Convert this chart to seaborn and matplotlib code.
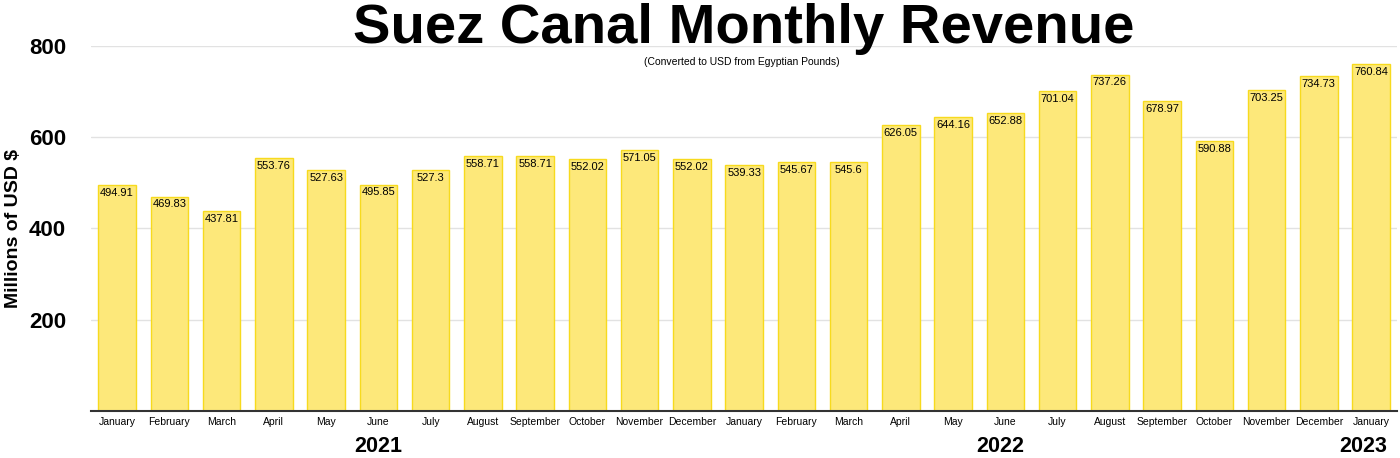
import pandas as pd
import matplotlib.pyplot as plt
import seaborn as sns

sns.set_theme(style="white")
plt.rcParams["font.family"] = ["Liberation Sans", "DejaVu Sans"]
plt.rcParams["text.color"] = "black"
plt.rcParams["axes.labelcolor"] = "black"
plt.rcParams["xtick.color"] = "black"
plt.rcParams["ytick.color"] = "black"

# Monthly revenue, Jan 2021 - Jan 2023 (millions USD)
months = [
    "January", "February", "March", "April", "May", "June", "July",
    "August", "September", "October", "November", "December",
    "January", "February", "March", "April", "May", "June", "July",
    "August", "September", "October", "November", "December",
    "January",
]
periods = [
    "2021-01", "2021-02", "2021-03", "2021-04", "2021-05", "2021-06",
    "2021-07", "2021-08", "2021-09", "2021-10", "2021-11", "2021-12",
    "2022-01", "2022-02", "2022-03", "2022-04", "2022-05", "2022-06",
    "2022-07", "2022-08", "2022-09", "2022-10", "2022-11", "2022-12",
    "2023-01",
]
revenue = [
    494.91, 469.83, 437.81, 553.76, 527.63, 495.85, 527.3,
    558.71, 558.71, 552.02, 571.05, 552.02,
    539.33, 545.67, 545.6, 626.05, 644.16, 652.88, 701.04,
    737.26, 678.97, 590.88, 703.25, 734.73,
    760.84,
]
labels = ["494.91", "469.83", "437.81", "553.76", "527.63", "495.85", "527.3",
          "558.71", "558.71", "552.02", "571.05", "552.02",
          "539.33", "545.67", "545.6", "626.05", "644.16", "652.88", "701.04",
          "737.26", "678.97", "590.88", "703.25", "734.73",
          "760.84"]
years = ["2021", "2022", "2023"]
year_pos = [5.0, 16.9, 23.85]

df = pd.DataFrame({"period": periods, "revenue": revenue})

fig = plt.figure(figsize=(14, 4.58), dpi=100)
ax = fig.add_axes([0.065, 0.1026, 0.933, 0.797])

sns.barplot(data=df, x="period", y="revenue", order=periods, ax=ax,
            color="#FDE87A", edgecolor="#F7DA1E", linewidth=1.0,
            width=0.72, saturation=1)

ax.set_ylim(0, 800)
ax.set_yticks([200, 400, 600, 800])
ax.yaxis.grid(True, color="#e2e2e2", linewidth=1)
ax.set_axisbelow(True)
for s in ["left", "right", "top"]:
    ax.spines[s].set_visible(False)
ax.spines["bottom"].set_color("#333333")
ax.spines["bottom"].set_linewidth(1.5)

ax.set_xticks(range(len(months)))
ax.set_xticklabels(months, fontsize=7.5)
ax.tick_params(axis="x", length=0, pad=4)
ax.tick_params(axis="y", length=0, pad=18, labelsize=16)
for t in ax.get_yticklabels():
    t.set_fontweight("bold")

ax.set_xlabel("")
ax.set_ylabel("Millions of USD $", fontsize=14, fontweight="bold")
ax.yaxis.set_label_coords(-0.053, 0.5)

# value labels inside bar tops
for i, (v, lab) in enumerate(zip(revenue, labels)):
    ax.text(i, v - 6, lab, ha="center", va="top", fontsize=8, color="black")

# year labels under month names
for y, xp in zip(years, year_pos):
    ax.text(xp, -0.097, y, transform=ax.get_xaxis_transform(), ha="center",
            va="center", fontsize=15.5, fontweight="bold")

fig.text(0.531, 0.937, "Suez Canal Monthly Revenue", ha="center", va="center",
         fontsize=40.5, fontweight="bold")
fig.text(0.53, 0.865, "(Converted to USD from Egyptian Pounds)", ha="center",
         va="center", fontsize=7.5)

fig.savefig("out.png", dpi=100)
